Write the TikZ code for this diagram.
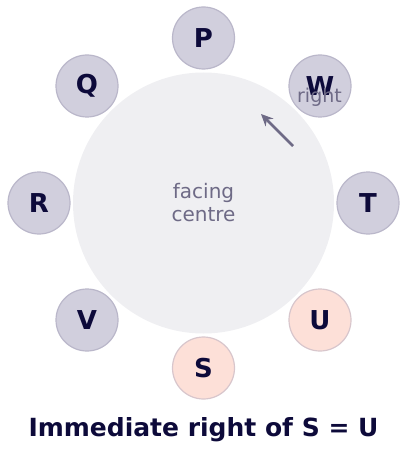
\documentclass[tikz,border=0pt]{standalone}
\usepackage{fontspec}
\setmainfont{DejaVu Sans}
\usetikzlibrary{arrows.meta}
\definecolor{ink}{HTML}{0D0A3A}
\definecolor{muted}{HTML}{6E6A86}
\definecolor{seatfill}{HTML}{D1CFDD}
\definecolor{seatline}{HTML}{BAB7CA}
\definecolor{hotfill}{HTML}{FDE0D8}
\definecolor{hotline}{HTML}{D8C6CC}
\definecolor{tablefill}{HTML}{EFEFF2}
\tikzset{
  seat/.style={circle, minimum size=62pt, inner sep=0pt, fill=seatfill, draw=seatline, line width=1.2pt, text=ink, font=\fontsize{26}{30}\selectfont\bfseries},
  hotseat/.style={seat, fill=hotfill, draw=hotline},
  note/.style={text=muted, font=\fontsize{20}{23}\selectfont, align=center},
}
\begin{document}
\begin{tikzpicture}[x=1pt,y=-1pt]
\useasboundingbox (0,0) rectangle (407,449);
\node[circle, minimum size=261pt, inner sep=0pt, fill=tablefill] (table) at (203.5,203) {};
\node[note] (facing) at (203.5,203) {facing\\centre};
\node[seat] (P) at (203.5,38) {P};
\node[seat] (W) at (320,86) {W};
\node[seat] (T) at (368,203) {T};
\node[hotseat] (U) at (320,320) {U};
\node[hotseat] (S) at (203.5,368) {S};
\node[seat] (V) at (87,320) {V};
\node[seat] (R) at (39,203) {R};
\node[seat] (Q) at (87,86) {Q};
\node[note, font=\fontsize{19}{22}\selectfont] (right) at (319.5,97) {right};
\coordinate (a1) at (293,146);
\coordinate (a2) at (261,114);
\draw[muted, line width=2.5pt, -{Stealth[length=12pt,width=11pt]}] (a1) -- (a2);
\node[text=ink, font=\fontsize{25}{29}\selectfont\bfseries] (title) at (203.5,430) {Immediate right of S = U};
\end{tikzpicture}
\end{document}
